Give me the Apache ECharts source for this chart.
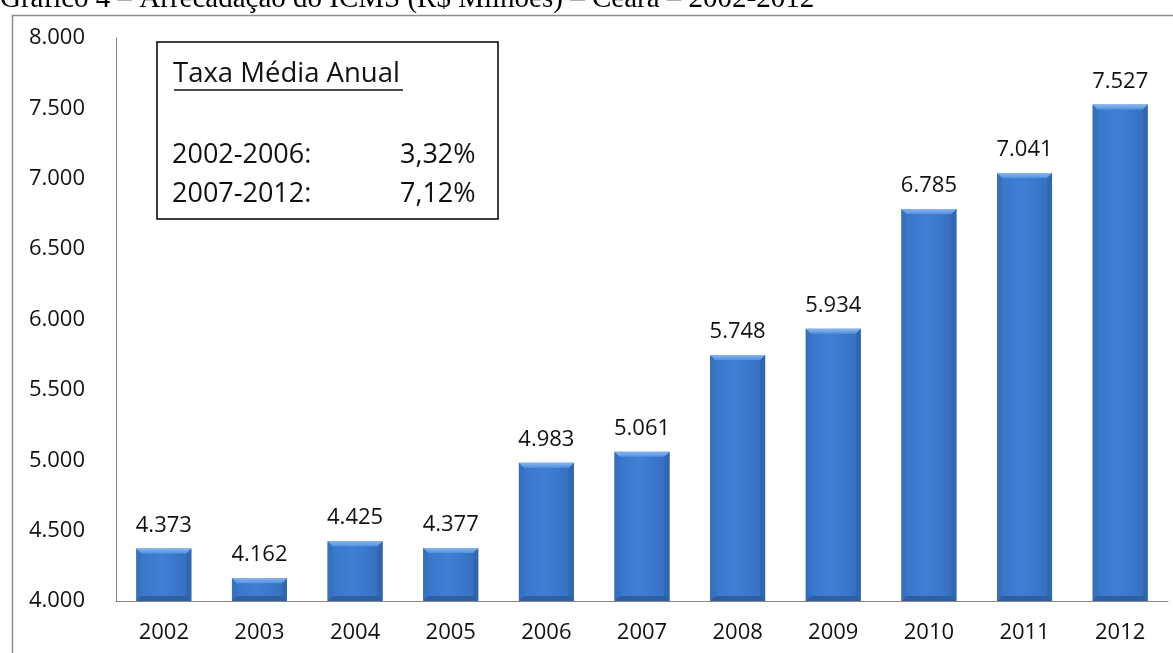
<!DOCTYPE html>
<html>
<head>
<meta charset="utf-8">
<script src="https://cdn.jsdelivr.net/npm/echarts@6/dist/echarts.min.js"></script>
<style>
  html, body { margin: 0; padding: 0; background: #fff; }
  #chart { width: 1173px; height: 653px; }
</style>
</head>
<body>
<div id="chart"></div>
<script>
// ICMS revenue, Ceará (R$ millions)
const years = ['2002', '2003', '2004', '2005', '2006', '2007', '2008', '2009', '2010', '2011', '2012'];
const icms = [4373, 4162, 4425, 4377, 4983, 5061, 5748, 5934, 6785, 7041, 7527];
const yTicks = { min: 4000, max: 8000, interval: 500 };
const growthPeriods = ['2002-2006:', '2007-2012:'];
const growthRates = ['3,32%', '7,12%'];

const FONT = '"Open Sans", "Liberation Sans", sans-serif';
const BAR_RATIO = 0.575;
const fmt = v => {
  const s = String(Math.round(v));
  return s.replace(/\B(?=(\d{3})+(?!\d))/g, '.');
};

const chart = echarts.init(document.getElementById('chart'), null, { renderer: 'canvas' });

// soft bevel edges drawn over each bar, using the axis scales
function bevel(params, api) {
  const idx = api.value(0);
  const val = api.value(1);
  const top = api.coord([idx, val]);
  const base = api.coord([idx, yTicks.min]);
  const w = api.size([1, 0])[0] * BAR_RATIO;
  const x0 = top[0] - w / 2, x1 = top[0] + w / 2;
  const y0 = top[1], y1 = base[1];
  const b = Math.min(5, (y1 - y0) / 2);
  return {
    type: 'group',
    children: [
      { type: 'polygon', shape: { points: [[x0, y0], [x0 + b, y0 + b], [x0 + b, y1 - b], [x0, y1]] },
        style: { fill: '#3670BF' } },
      { type: 'polygon', shape: { points: [[x1, y0], [x1 - b, y0 + b], [x1 - b, y1 - b], [x1, y1]] },
        style: { fill: '#3266B0' } },
      { type: 'polygon', shape: { points: [[x0, y1], [x0 + b, y1 - b], [x1 - b, y1 - b], [x1, y1]] },
        style: { fill: '#2E5FA2' } },
      { type: 'polygon', shape: { points: [[x0, y0], [x1, y0], [x1 - b, y0 + b], [x0 + b, y0 + b]] },
        style: { fill: new echarts.graphic.LinearGradient(0, 0, 0, 1, [
          { offset: 0, color: '#86B7F1' }, { offset: 1, color: '#5591DD' }]) } }
    ]
  };
}

chart.setOption({
  animation: false,
  backgroundColor: '#ffffff',
  grid: { left: 116, right: 5, top: 38, bottom: 52, containLabel: false },
  xAxis: {
    type: 'category',
    data: years,
    axisLine: { show: true, lineStyle: { color: '#868686', width: 1 } },
    axisTick: { show: false },
    axisLabel: { color: '#111', fontFamily: FONT, fontSize: 22, margin: 21 },
    splitLine: { show: false }
  },
  yAxis: {
    type: 'value',
    min: yTicks.min,
    max: yTicks.max,
    interval: yTicks.interval,
    axisLine: { show: true, lineStyle: { color: '#868686', width: 1 } },
    axisTick: { show: false },
    splitLine: { show: false },
    axisLabel: { color: '#111', fontFamily: FONT, fontSize: 22, margin: 31, formatter: v => fmt(v) }
  },
  series: [
    {
      type: 'bar',
      data: icms,
      barWidth: (BAR_RATIO * 100) + '%',
      itemStyle: {
        color: new echarts.graphic.LinearGradient(0, 0, 1, 0, [
          { offset: 0, color: '#3774C4' },
          { offset: 0.45, color: '#3E80D6' },
          { offset: 1, color: '#356EBC' }
        ])
      },
      label: {
        show: true,
        position: 'top',
        distance: 12,
        color: '#111',
        fontFamily: FONT,
        fontSize: 22,
        formatter: p => fmt(p.value)
      },
      z: 2
    },
    {
      type: 'custom',
      data: icms.map((v, i) => [i, v]),
      renderItem: bevel,
      encode: { x: 0, y: 1 },
      silent: true,
      z: 3
    }
  ],
  graphic: [
    // outer frame
    { type: 'rect', left: 10, top: 13, shape: { x: 0.5, y: 0.5, width: 1300, height: 800 },
      style: { fill: 'none', stroke: '#8C8C8C', lineWidth: 1.5 }, z: 0 },
    // title line
    { type: 'text', x: 0, y: -1, style: {
        text: 'Gráfico 4 – Arrecadação do ICMS (R$ Milhões) – Ceará – 2002-2012',
        font: '29px "Liberation Serif", "Times New Roman", serif',
        fill: '#000', align: 'left', verticalAlign: 'middle' }, z: 10 },
    // growth box
    { type: 'rect', shape: { x: 157, y: 42, width: 341, height: 177 },
      style: { fill: '#fff', stroke: '#000', lineWidth: 1.5 }, z: 10 },
    { type: 'text', x: 173, y: 74, style: {
        text: 'Taxa Média Anual', font: '27.5px ' + FONT, fill: '#111', verticalAlign: 'middle' }, z: 11 },
    { type: 'line', shape: { x1: 174, y1: 90, x2: 403, y2: 90 },
      style: { stroke: '#111', lineWidth: 1.5 }, z: 11 },
    { type: 'text', x: 172, y: 155, style: {
        text: growthPeriods[0], font: '27px ' + FONT, fill: '#111', verticalAlign: 'middle' }, z: 11 },
    { type: 'text', x: 400, y: 155, style: {
        text: growthRates[0], font: '27px ' + FONT, fill: '#111', verticalAlign: 'middle' }, z: 11 },
    { type: 'text', x: 172, y: 194, style: {
        text: growthPeriods[1], font: '27px ' + FONT, fill: '#111', verticalAlign: 'middle' }, z: 11 },
    { type: 'text', x: 400, y: 194, style: {
        text: growthRates[1], font: '27px ' + FONT, fill: '#111', verticalAlign: 'middle' }, z: 11 }
  ]
});
</script>
</body>
</html>
